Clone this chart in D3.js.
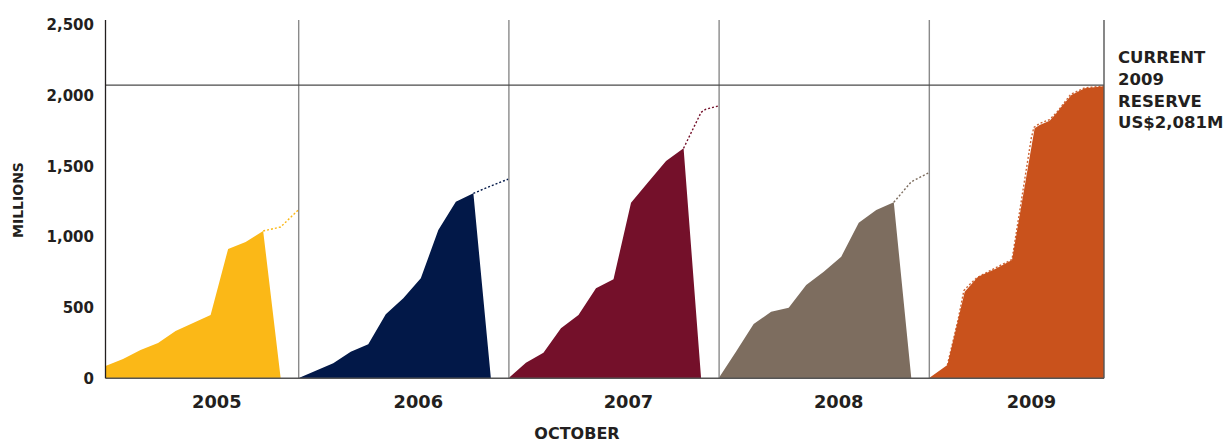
<!DOCTYPE html>
<html>
<head>
<meta charset="utf-8">
<script src="https://cdn.jsdelivr.net/npm/d3@7"></script>
<style>
  body { margin: 0; background: #fff; }
  text { font-family: "DejaVu Sans", sans-serif; font-weight: bold; fill: #231f20; }
</style>
</head>
<body>
<svg id="chart" width="1224" height="444"></svg>
<script>
// year panels, each 12 months wide; points are [month within year, millions]
var years = ["2005", "2006", "2007", "2008", "2009"];
var colors = ["#fbb817", "#021848", "#74102a", "#7d6d5f", "#c9521c"];

var actual2005 = [[1,87],[2,136],[3,200],[4,249],[5,335],[6,391],[7,448],[8,915],[9,964],[10,1042],[11,0]];
var actual2006 = [[0,0],[1,54],[2,106],[3,188],[4,240],[5,453],[6,566],[7,707],[8,1049],[9,1249],[10,1308],[11,0]];
var actual2007 = [[0,0],[1,110],[2,181],[3,354],[4,448],[5,636],[6,700],[7,1242],[8,1390],[9,1537],[10,1627],[11,0]];
var actual2008 = [[0,0],[1,190],[2,384],[3,471],[4,499],[5,660],[6,754],[7,860],[8,1100],[9,1190],[10,1245],[11,0]];
var actual2009 = [[0,0],[1.06,94],[2.05,612],[2.81,718],[3.76,771],[4.75,837],[6.04,1768],[6.33,1791],[6.9,1822],
                  [7.28,1874],[7.57,1921],[8.14,2003],[8.9,2051],[10,2066],[10,0]];

var proj2005 = [[10,1042],[11,1070],[12,1190]];
var proj2006 = [[10,1308],[11,1360],[12,1409]];
var proj2007 = [[10,1627],[11,1881],[11.25,1902],[12,1926]];
var proj2008 = [[10,1245],[11,1390],[12,1454]];
var proj2009 = [[1.06,94],[1.67,413],[2.0,620],[2.3,660],[2.75,712],[3.76,778],[4.75,840],[5.85,1700],[6.0,1775],
                [6.3,1800],[6.9,1830],[7.3,1880],[7.6,1928],[8.1,2008],[8.9,2055],[10,2066]];

var actuals = [actual2005, actual2006, actual2007, actual2008, actual2009];
var projections = [proj2005, proj2006, proj2007, proj2008, proj2009];

var yTicks = [0, 500, 1000, 1500, 2000, 2500];
var reserve = 2081;
var reserveLabel = ["CURRENT", "2009", "RESERVE", "US$2,081M"];

var svg = d3.select("#chart");
var monthStart = 1, monthEnd = 58;
var x = d3.scaleLinear().domain([monthStart, monthEnd]).range([105.5, 1104]);
var y = d3.scaleLinear().domain([0, 2500]).range([378.3, 24.8]);
var plotTop = y(2534);

function gx(i, m) { return x(i * 12 + m); }

// fills
var area = d3.area().x(function(d){ return d.gx; }).y0(y(0)).y1(function(d){ return y(d[1]); });
var line = d3.line().x(function(d){ return d.gx; }).y(function(d){ return y(d[1]); });

actuals.forEach(function(s, i){
    s.forEach(function(d){ d.gx = gx(i, d[0]); });
    svg.append("path").attr("d", area(s)).attr("fill", colors[i]);
});
projections.forEach(function(s, i){
    s.forEach(function(d){ d.gx = gx(i, d[0]); });
    svg.append("path").attr("d", line(s)).attr("fill", "none")
       .attr("stroke", colors[i]).attr("stroke-width", 1.4)
       .attr("stroke-dasharray", "2,2").attr("opacity", i == 4 ? 0.9 : 1);
});

// year separators
var sep = svg.append("g").attr("transform", "translate(0," + y(0) + ")")
    .call(d3.axisBottom(x).tickValues([12, 24, 36, 48]).tickSize(-(y(0) - plotTop)).tickFormat(""));
sep.select(".domain").remove();
sep.selectAll("line").attr("stroke", "#8a8a8a").attr("stroke-width", 1.4);

// reserve line
svg.append("line").attr("x1", x(monthStart)).attr("x2", x(monthEnd))
   .attr("y1", y(reserve) + 1).attr("y2", y(reserve) + 1).attr("stroke", "#4a4a4a").attr("stroke-width", 1.2);

// right edge
svg.append("line").attr("x1", x(monthEnd)).attr("x2", x(monthEnd)).attr("y1", plotTop).attr("y2", y(0))
   .attr("stroke", "#555").attr("stroke-width", 1.4);

// baseline
svg.append("line").attr("x1", x(monthStart)).attr("x2", x(monthEnd)).attr("y1", y(0)).attr("y2", y(0))
   .attr("stroke", "#555").attr("stroke-width", 1.5);

// y axis
var ya = svg.append("g").attr("transform", "translate(" + x(monthStart) + ",0)")
    .call(d3.axisLeft(y).tickValues(yTicks).tickSize(0).tickPadding(11.5).tickFormat(d3.format(",")));
ya.select(".domain").remove();
ya.attr("font-family", null).attr("font-size", null);
ya.selectAll("text").style("font-size", "15px").attr("fill", "#231f20");
svg.append("line").attr("x1", x(monthStart)).attr("x2", x(monthStart)).attr("y1", plotTop).attr("y2", y(0))
   .attr("stroke", "#231f20").attr("stroke-width", 1.3);

svg.append("text").attr("transform", "translate(23,200) rotate(-90)")
   .attr("text-anchor", "middle").style("font-size", "14px").text("MILLIONS");

// year labels
years.forEach(function(yr, i){
    var a = x(Math.max(i * 12, monthStart)), b = x(Math.min(i * 12 + 12, monthEnd));
    svg.append("text").attr("x", (a + b) / 2 + 15).attr("y", 408)
       .attr("text-anchor", "middle").style("font-size", "17.8px").text(yr);
});

svg.append("text").attr("x", 577).attr("y", 439).attr("text-anchor", "middle")
   .style("font-size", "16px").text("OCTOBER");

// reserve note
svg.append("text").attr("x", 1118).attr("y", 63.3).style("font-size", "16.5px")
   .selectAll("tspan").data(reserveLabel).enter().append("tspan")
   .attr("x", 1118).attr("dy", function(d, i){ return i ? 21.7 : 0; }).text(function(d){ return d; });
</script>
</body>
</html>
